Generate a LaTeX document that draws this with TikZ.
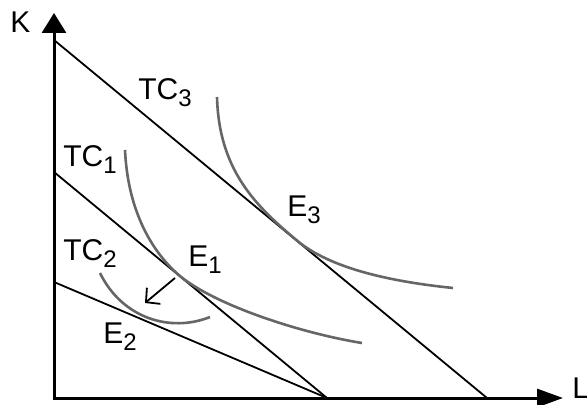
\documentclass[tikz,border=0pt]{standalone}
\usepackage{fontspec}
\setmainfont{Liberation Sans}
\usetikzlibrary{arrows.meta}

\newcommand{\lowidx}[1]{\raisebox{-3.5pt}{\fontsize{12}{12}\selectfont #1}}

\begin{document}
\begin{tikzpicture}[
    x=0.5pt, y=-0.5pt,
    axis/.style={line width=1.5pt, {Triangle[length=10pt, width=12pt]}-{Triangle[length=13pt, width=9pt]}},
    budget/.style={line width=0.9pt},
    isoq/.style={line width=1.3pt, draw=black!60},
    move/.style={line width=0.9pt, -{Straight Barb[length=5pt, width=10.5pt]}},
    lbl/.style={inner sep=0pt, anchor=base west, font=\fontsize{15}{18}\selectfont},
]
\useasboundingbox (0,0) rectangle (587,405);

\coordinate (O) at (54,398);
\coordinate (Ktop) at (54,13);
\coordinate (Lend) at (563,398);
\coordinate (k3) at (54,40);
\coordinate (l3) at (487,398);
\coordinate (k1) at (54,172);
\coordinate (k2) at (54,282);
\coordinate (l0) at (327,398);
\coordinate (e3) at (300,243);
\coordinate (e1) at (180,276);
\coordinate (a1) at (175,278);
\coordinate (a2) at (145,303);

\draw[axis] (Ktop) -- (O) -- (Lend);
\node[lbl] (K) at (10,33) {K};
\node[lbl] (L) at (572,398) {L};

\draw[budget] (k3) -- (l3);
\draw[budget] (k1) -- (l0);
\draw[budget] (k2) -- (l0);

\draw[isoq] (217,97) .. controls (219,170) and (255,206) .. (e3) .. controls (335,270) and (395,282) .. (453,288);
\draw[isoq] (125,150) .. controls (128,215) and (155,255) .. (e1) .. controls (215,305) and (300,333) .. (362,343);
\draw[isoq] (100,273) .. controls (122,318) and (170,333) .. (210,317);

\draw[move] (a1) -- (a2);

\node[lbl] (tc3) at (138,100) {TC\lowidx{3}};
\node[lbl] (tc1) at (63,167) {TC\lowidx{1}};
\node[lbl] (tc2) at (63,260) {TC\lowidx{2}};
\node[lbl] (E3) at (287,217) {E\lowidx{3}};
\node[lbl] (E1) at (188,266) {E\lowidx{1}};
\node[lbl] (E2) at (103,343) {E\lowidx{2}};
\end{tikzpicture}
\end{document}
